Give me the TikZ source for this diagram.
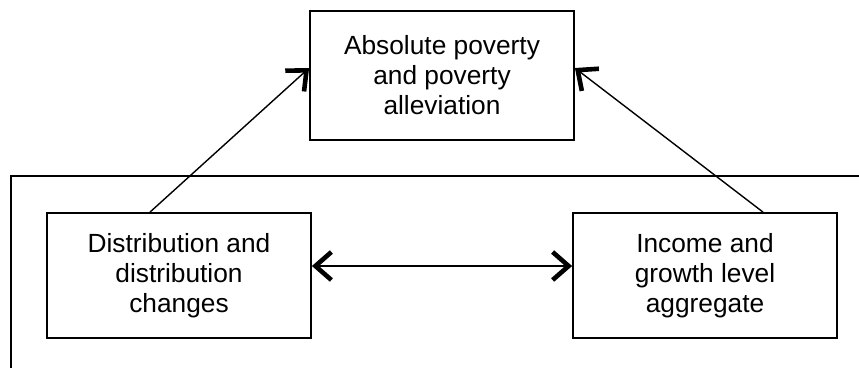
\documentclass[tikz,border=0pt]{standalone}
\usepackage{fontspec}
\setmainfont{Liberation Sans}
\usetikzlibrary{arrows.meta}
\tikzset{barbtip/.tip={Straight Barb[length=16pt,width=28pt,line width=4.6pt]}}
\begin{document}
\begin{tikzpicture}[x=1pt,y=-1pt,
  box/.style={draw=black, line width=1.8pt, fill=white, align=center,
    minimum width=264pt, inner sep=0pt,
    font=\fontsize{26.3pt}{30pt}\selectfont},
  conn/.style={line width=1.4pt, draw=black, line cap=round, line join=round}
]
\useasboundingbox (0,0) rectangle (859,367);
% outer partial frame
\draw[line width=1.8pt] (862,176) -- (11,176) -- (11,370);
% boxes
\node[box, minimum height=129pt] (top) at (442,75.5) {Absolute poverty\\and poverty\\alleviation};
\node[box, minimum height=125pt] (left) at (179,275.5) {Distribution and\\distribution\\changes};
\node[box, minimum height=125pt] (right) at (705,275.5) {Income and\\growth level\\aggregate};
% connectors
\draw[conn, -{barbtip}] ([xshift=-29pt]left.north) -- ([yshift=7.5pt]top.west);
\draw[conn, -{barbtip}] ([xshift=58pt]right.north) -- ([yshift=7.5pt]top.east);
\draw[conn, {barbtip}-{barbtip}] ([yshift=9.5pt]left.east) -- ([yshift=9.5pt]right.west);
\end{tikzpicture}
\end{document}
